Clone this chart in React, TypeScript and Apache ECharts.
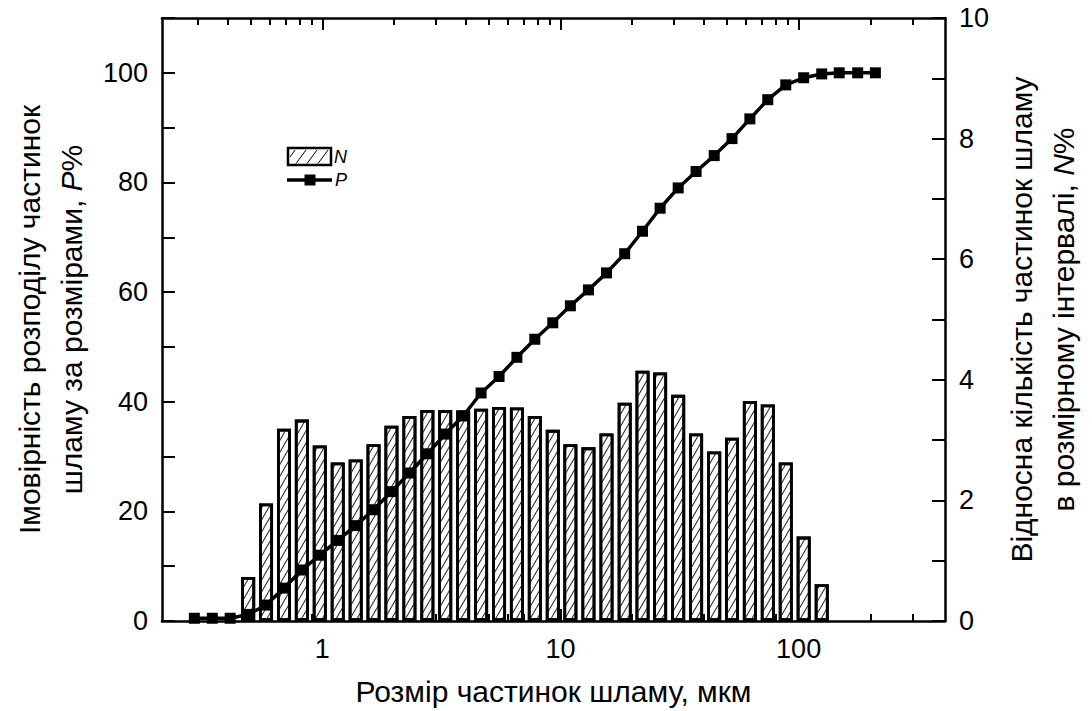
import React, { useEffect, useRef } from "react";
import * as echarts from "echarts";

// Particle size classes, µm (geometric step)
const sizes = [
  0.29, 0.345, 0.41, 0.488, 0.58, 0.69, 0.82, 0.975, 1.16, 1.38, 1.64, 1.95,
  2.32, 2.76, 3.28, 3.9, 4.64, 5.52, 6.56, 7.8, 9.28, 11.0, 13.1, 15.6, 18.6,
  22.1, 26.2, 31.2, 37.1, 44.2, 52.5, 62.4, 74.2, 88.3, 105, 125, 148, 177, 210,
];
// Cumulative distribution P, %
const pValues = [
  0.5, 0.5, 0.5, 1.2, 2.9, 6.0, 9.3, 12.0, 14.7, 17.4, 20.3, 23.6, 27.0, 30.5,
  34.1, 37.4, 41.6, 44.6, 48.1, 51.4, 54.4, 57.5, 60.4, 63.5, 67.0, 71.1, 75.3,
  79.0, 82.0, 84.9, 88.0, 91.6, 95.1, 97.8, 99.1, 99.8, 100, 100, 100,
];
// Bin sizes for the histogram, µm
const binSizes = [
  0.488, 0.58, 0.69, 0.82, 0.975, 1.16, 1.38, 1.64, 1.95, 2.32, 2.76, 3.28,
  3.9, 4.64, 5.52, 6.56, 7.8, 9.28, 11.0, 13.1, 15.6, 18.6, 22.1, 26.2, 31.2,
  37.1, 44.2, 52.5, 62.4, 74.2, 88.3, 105, 125,
];
// Relative number of particles in size interval N, %
const nValues = [
  0.73, 1.95, 3.19, 3.34, 2.91, 2.63, 2.68, 2.93, 3.24, 3.4, 3.5, 3.5, 3.49,
  3.52, 3.55, 3.54, 3.4, 3.17, 2.93, 2.88, 3.11, 3.62, 4.15, 4.12, 3.75, 3.11,
  2.81, 3.04, 3.65, 3.59, 2.63, 1.4, 0.61,
];

const xRange = [0.212, 412];
const xMajorTicks = [1, 10, 100];
const xMinorTicks = [
  0.3, 0.4, 0.5, 0.6, 0.7, 0.8, 0.9, 2, 3, 4, 5, 6, 7, 8, 9, 20, 30, 40, 50,
  60, 70, 80, 90, 200, 300,
];

const FONT = "'Liberation Sans', Arial, Helvetica, sans-serif";
const TITLE_SIZE = 30;
const TITLE_LH = 42;
const lg = (v: number) => Math.log10(v);

function buildOption() {
  const xmin = lg(xRange[0]);
  const xmax = lg(xRange[1]);
  const majorLog = xMajorTicks.map(lg);
  const minorLog = xMinorTicks.map(lg);
  const axisLineStyle = { color: "#000", width: 2.5 };
  const tickLine = { color: "#000", width: 2 };
  const labelStyle = { color: "#000", fontSize: 27, fontFamily: FONT };

  const baseX = (position: "top" | "bottom", ticks: number[], len: number, withLine: boolean, withLabel: boolean) => ({
    type: "value",
    min: xmin,
    max: xmax,
    position,
    gridIndex: 0,
    axisLine: { show: withLine, onZero: false, lineStyle: axisLineStyle },
    axisTick: { show: true, inside: true, length: len, customValues: ticks, lineStyle: tickLine },
    axisLabel: withLabel
      ? {
          show: true,
          customValues: majorLog,
          margin: 14,
          ...labelStyle,
          formatter: (v: number) => {
            const t = xMajorTicks.find((m) => Math.abs(lg(m) - v) < 1e-6);
            return t === undefined ? "" : String(t);
          },
        }
      : { show: false },
    splitLine: { show: false },
  });

  const xBottom: any = baseX("bottom", majorLog, 12, true, true);
  xBottom.name = "Розмір частинок шламу, мкм";
  xBottom.nameLocation = "middle";
  xBottom.nameGap = 55;
  xBottom.nameTextStyle = { color: "#000", fontSize: TITLE_SIZE, fontFamily: FONT };

  const rich = {
    i: { fontStyle: "italic", fontSize: TITLE_SIZE, fontFamily: FONT, color: "#000", lineHeight: TITLE_LH },
  };

  return {
    animation: false,
    backgroundColor: "#fff",
    grid: { left: 148, right: 120, top: 18, bottom: 88, containLabel: false },
    xAxis: [
      xBottom,
      baseX("bottom", minorLog, 7, false, false),
      baseX("top", majorLog, 12, true, false),
      baseX("top", minorLog, 7, false, false),
    ],
    yAxis: [
      {
        type: "value",
        min: 0,
        max: 110,
        interval: 10,
        position: "left",
        axisLine: { show: true, onZero: false, lineStyle: axisLineStyle },
        axisTick: { show: true, inside: true, length: 13, lineStyle: tickLine },
        axisLabel: {
          ...labelStyle,
          margin: 14,
          formatter: (v: number) => (v % 20 === 0 ? String(v) : ""),
        },
        splitLine: { show: false },
        name: "Імовірність розподілу частинок\nшламу за розмірами, {i|P}%",
        nameLocation: "middle",
        nameRotate: 90,
        nameGap: 62,
        nameTextStyle: { color: "#000", fontSize: TITLE_SIZE, fontFamily: FONT, lineHeight: TITLE_LH, rich },
      },
      {
        type: "value",
        min: 0,
        max: 10,
        interval: 1,
        position: "right",
        axisLine: { show: true, onZero: false, lineStyle: axisLineStyle },
        axisTick: { show: true, inside: true, length: 13, lineStyle: tickLine },
        axisLabel: {
          ...labelStyle,
          margin: 14,
          formatter: (v: number) => (v % 2 === 0 ? String(v) : ""),
        },
        splitLine: { show: false },
        name: "Відносна кількість частинок шламу\nв розмірному інтервалі, {i|N}%",
        nameLocation: "middle",
        nameRotate: 90,
        nameGap: 46,
        nameTextStyle: { color: "#000", fontSize: TITLE_SIZE, fontFamily: FONT, lineHeight: TITLE_LH, rich },
      },
    ],
    series: [
      {
        name: "N",
        type: "bar",
        xAxisIndex: 0,
        yAxisIndex: 1,
        barWidth: 14,
        data: binSizes.map((s, i) => [lg(s), nValues[i]]),
        itemStyle: {
          color: "#fff",
          borderColor: "#000",
          borderWidth: 2.8,
          decal: {
            symbol: "rect",
            symbolSize: 1,
            dashArrayX: [1, 0],
            dashArrayY: [1, 5],
            rotation: -Math.PI / 3,
            color: "#222",
            backgroundColor: "#fff",
          },
        },
        z: 2,
      },
      {
        name: "P",
        type: "line",
        xAxisIndex: 0,
        yAxisIndex: 0,
        data: sizes.map((s, i) => [lg(s), pValues[i]]),
        symbol: "rect",
        symbolSize: 11,
        showAllSymbol: true,
        lineStyle: { color: "#000", width: 3.5 },
        itemStyle: { color: "#000" },
        z: 5,
      },
    ],
    graphic: [
      { type: "rect", shape: { x: 288, y: 148, width: 43, height: 17 }, style: { fill: "#fff", stroke: "#000", lineWidth: 2.5 }, z: 10 },
      { type: "line", shape: { x1: 290, y1: 157, x2: 295, y2: 150 }, style: { stroke: "#000", lineWidth: 1 }, z: 11 },
      { type: "line", shape: { x1: 296, y1: 163.5, x2: 306, y2: 150 }, style: { stroke: "#000", lineWidth: 1 }, z: 11 },
      { type: "line", shape: { x1: 307, y1: 163.5, x2: 317, y2: 150 }, style: { stroke: "#000", lineWidth: 1 }, z: 11 },
      { type: "line", shape: { x1: 318, y1: 163.5, x2: 328, y2: 150 }, style: { stroke: "#000", lineWidth: 1 }, z: 11 },
      { type: "text", x: 334, y: 157, style: { text: "N", fontSize: 18, fontStyle: "italic", fontFamily: FONT, fill: "#000", verticalAlign: "middle" }, z: 11 },
      { type: "line", shape: { x1: 287, y1: 180, x2: 332, y2: 180 }, style: { stroke: "#000", lineWidth: 3.5 }, z: 10 },
      { type: "rect", shape: { x: 304.5, y: 174.5, width: 11, height: 11 }, style: { fill: "#000" }, z: 11 },
      { type: "text", x: 335, y: 180, style: { text: "P", fontSize: 18, fontStyle: "italic", fontFamily: FONT, fill: "#000", verticalAlign: "middle" }, z: 11 },
    ],
  };
}

export default function App() {
  const ref = useRef<HTMLDivElement>(null);
  useEffect(() => {
    if (!ref.current) return;
    const chart = echarts.init(ref.current, null, { renderer: "svg" });
    chart.setOption(buildOption() as any);
    return () => chart.dispose();
  }, []);
  return (
    <div
      ref={ref}
      style={{ position: "fixed", left: 0, top: 0, width: 1092, height: 711, background: "#fff" }}
    />
  );
}
